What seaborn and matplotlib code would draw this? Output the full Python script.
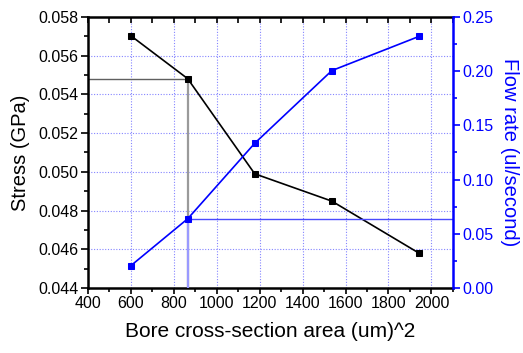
import matplotlib
matplotlib.use("Agg")
import matplotlib.pyplot as plt
import seaborn as sns
import pandas as pd
from matplotlib.ticker import MultipleLocator

sns.set_theme(style="white")
plt.rcParams["font.family"] = ["Liberation Sans", "DejaVu Sans"]
plt.rcParams.update({"text.color": "black", "axes.labelcolor": "black",
                     "xtick.color": "black", "ytick.color": "black"})

area = [600, 865, 1177, 1536, 1944]
stress = [0.05703, 0.05481, 0.04990, 0.04849, 0.04579]
flow = [0.0206, 0.0639, 0.1335, 0.2005, 0.2322]

df = pd.DataFrame({"area": area, "stress": stress, "flow": flow})

fig = plt.figure(figsize=(5.23, 3.53), dpi=100)
ax = fig.add_axes([0.168, 0.184, 0.698, 0.768])
ax2 = ax.twinx()

xmin, xmax = 400, 2100
ax.set_xlim(xmin, xmax)
ax.set_ylim(0.044, 0.058)
ax2.set_ylim(0.0, 0.25)

grid_kw = dict(color="#8585ff", linestyle=(0, (1, 1.5)), linewidth=0.8, zorder=0)
for gx in range(600, 2100, 200):
    ax.axvline(gx, **grid_kw)
for gy in [0.046, 0.048, 0.050, 0.052, 0.054, 0.056]:
    ax.axhline(gy, **grid_kw)

# reference lines at the second data point
ax.plot([xmin, area[1]], [stress[1], stress[1]], color="#606060", lw=1.0, zorder=2)
ax.plot([area[1], area[1]], [0.044, stress[1]], color="#9a9a9a", lw=1.6, zorder=2)
ax2.plot([area[1], area[1]], [0.0, flow[1]], color="#9a9aff", lw=1.6, zorder=2)
ax2.plot([area[1], xmax], [flow[1], flow[1]], color="#4a4aff", lw=1.0, zorder=2)

sns.lineplot(data=df, x="area", y="stress", ax=ax, color="black", lw=1.2,
             marker="s", markersize=4, markeredgecolor="black", zorder=5)
sns.lineplot(data=df, x="area", y="flow", ax=ax2, color="#0000ff", lw=1.2,
             marker="s", markersize=4, markeredgecolor="#0000ff", zorder=5)

ax.xaxis.set_major_locator(MultipleLocator(200))
ax.xaxis.set_minor_locator(MultipleLocator(100))
ax.yaxis.set_major_locator(MultipleLocator(0.002))
ax.yaxis.set_minor_locator(MultipleLocator(0.001))
ax2.yaxis.set_major_locator(MultipleLocator(0.05))
ax2.yaxis.set_minor_locator(MultipleLocator(0.025))
ax.set_xticks(range(400, 2001, 200))
ax.set_xticklabels([str(v) for v in range(400, 2001, 200)])
ax.set_yticklabels([f"{v:.3f}" for v in ax.get_yticks()])
ax2.set_yticklabels([f"{v:.2f}" for v in ax2.get_yticks()])

for s in ["left", "bottom", "top"]:
    ax.spines[s].set_linewidth(1.8)
    ax.spines[s].set_color("black")
for s in ["left", "bottom", "top"]:
    ax2.spines[s].set_visible(False)
ax.spines["right"].set_visible(False)
ax2.spines["right"].set_linewidth(1.8)
ax2.spines["right"].set_color("#0000ff")

ax.tick_params(axis="x", which="both", direction="out", top=False, bottom=True,
               labelsize=11.5, width=1.2, colors="black", pad=2)
ax.tick_params(axis="x", which="major", length=4)
ax.tick_params(axis="x", which="minor", length=3)
ax.tick_params(axis="y", which="both", direction="out", left=True, labelsize=11.5,
               width=1.2, colors="black", pad=2)
ax.tick_params(axis="y", which="major", length=5)
ax.tick_params(axis="y", which="minor", length=3)
ax2.tick_params(axis="y", which="both", direction="out", right=True, labelsize=11.5,
                width=1.2, colors="#0000ff", pad=2)
ax2.tick_params(axis="y", which="major", length=5)
ax2.tick_params(axis="y", which="minor", length=3)

# top mirror ticks point into the plot
secx = ax.secondary_xaxis("top")
secx.xaxis.set_major_locator(MultipleLocator(100))
secx.tick_params(direction="in", length=4, width=1.2, labelsize=0, colors="black")
secx.set_xticklabels([])
secx.spines["top"].set_visible(False)

ax.set_xlabel("Bore cross-section area (um)^2", fontsize=15, labelpad=8,
              color="black")
ax.set_ylabel("Stress (GPa)", fontsize=14.5, labelpad=6, color="black")
ax2.set_ylabel("Flow rate (ul/second)", fontsize=14.5, color="#0000ff",
               rotation=270, labelpad=18)

fig.savefig("out.png", dpi=100)
